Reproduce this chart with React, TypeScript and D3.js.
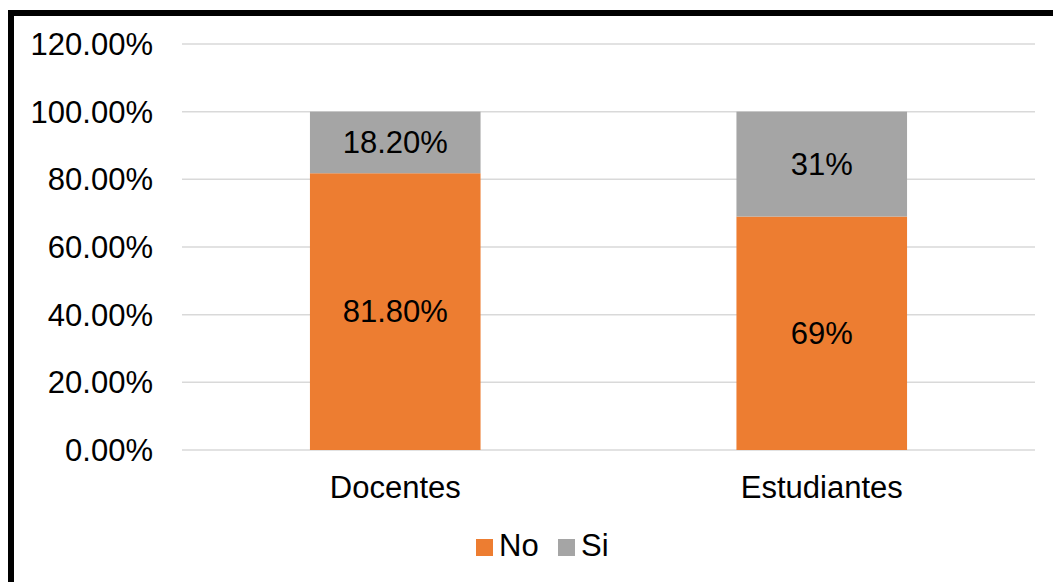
import React from "react";
import * as d3 from "d3";

const categories = ["Docentes", "Estudiantes"];
const seriesNames = ["No", "Si"];
const noValues = [0.818, 0.69];
const siValues = [0.182, 0.31];
const noLabels = ["81.80%", "69%"];
const siLabels = ["18.20%", "31%"];
const yTicks = [0, 0.2, 0.4, 0.6, 0.8, 1.0, 1.2];
const colors = ["#ED7D31", "#A5A5A5"];

const W = 1053;
const H = 582;
const FONT = "'Liberation Sans', Arial, sans-serif";

export default function App() {
  const x = d3.scaleBand<string>().domain(categories).range([182, 1035]).paddingInner(0.6).paddingOuter(0.3);
  const y = d3.scaleLinear().domain([0, 1.2]).range([450, 44]);
  const fmt = d3.format(".2%");

  const stacks = categories.map((c, i) => ({
    cat: c,
    segs: [
      { v0: 0, v1: noValues[i], label: noLabels[i], color: colors[0] },
      { v0: noValues[i], v1: noValues[i] + siValues[i], label: siLabels[i], color: colors[1] },
    ],
  }));

  return (
    <svg width={W} height={H} style={{ position: "fixed", left: 0, top: 0, background: "#fff" }} fontFamily={FONT}>
      <rect x={0} y={0} width={W} height={H} fill="#fff" />
      {yTicks.map((t) => (
        <g key={t}>
          <line x1={182} x2={1035} y1={y(t)} y2={y(t)} stroke="#D9D9D9" strokeWidth={1.5} />
          <text x={153} y={y(t)} dy="0.35em" textAnchor="end" fontSize={31} fill="#000">
            {fmt(t)}
          </text>
        </g>
      ))}
      {stacks.map((s) => (
        <g key={s.cat}>
          {s.segs.map((seg, j) => (
            <g key={j}>
              <rect
                x={x(s.cat)!}
                width={x.bandwidth()}
                y={y(seg.v1)}
                height={y(seg.v0) - y(seg.v1)}
                fill={seg.color}
              />
              <text
                x={x(s.cat)! + x.bandwidth() / 2}
                y={(y(seg.v0) + y(seg.v1)) / 2}
                dy="0.35em"
                textAnchor="middle"
                fontSize={31}
                fill="#000"
              >
                {seg.label}
              </text>
            </g>
          ))}
          <text x={x(s.cat)! + x.bandwidth() / 2} y={498} textAnchor="middle" fontSize={31} fill="#000">
            {s.cat}
          </text>
        </g>
      ))}
      <g>
        <rect x={476} y={539} width={17} height={17} fill={colors[0]} />
        <text x={499} y={556} fontSize={31} fill="#000">{seriesNames[0]}</text>
        <rect x={558} y={539} width={17} height={17} fill={colors[1]} />
        <text x={581} y={556} fontSize={31} fill="#000">{seriesNames[1]}</text>
      </g>
      <rect x={11} y={13} width={W + 20} height={H + 20} fill="none" stroke="#000" strokeWidth={6} />
    </svg>
  );
}
